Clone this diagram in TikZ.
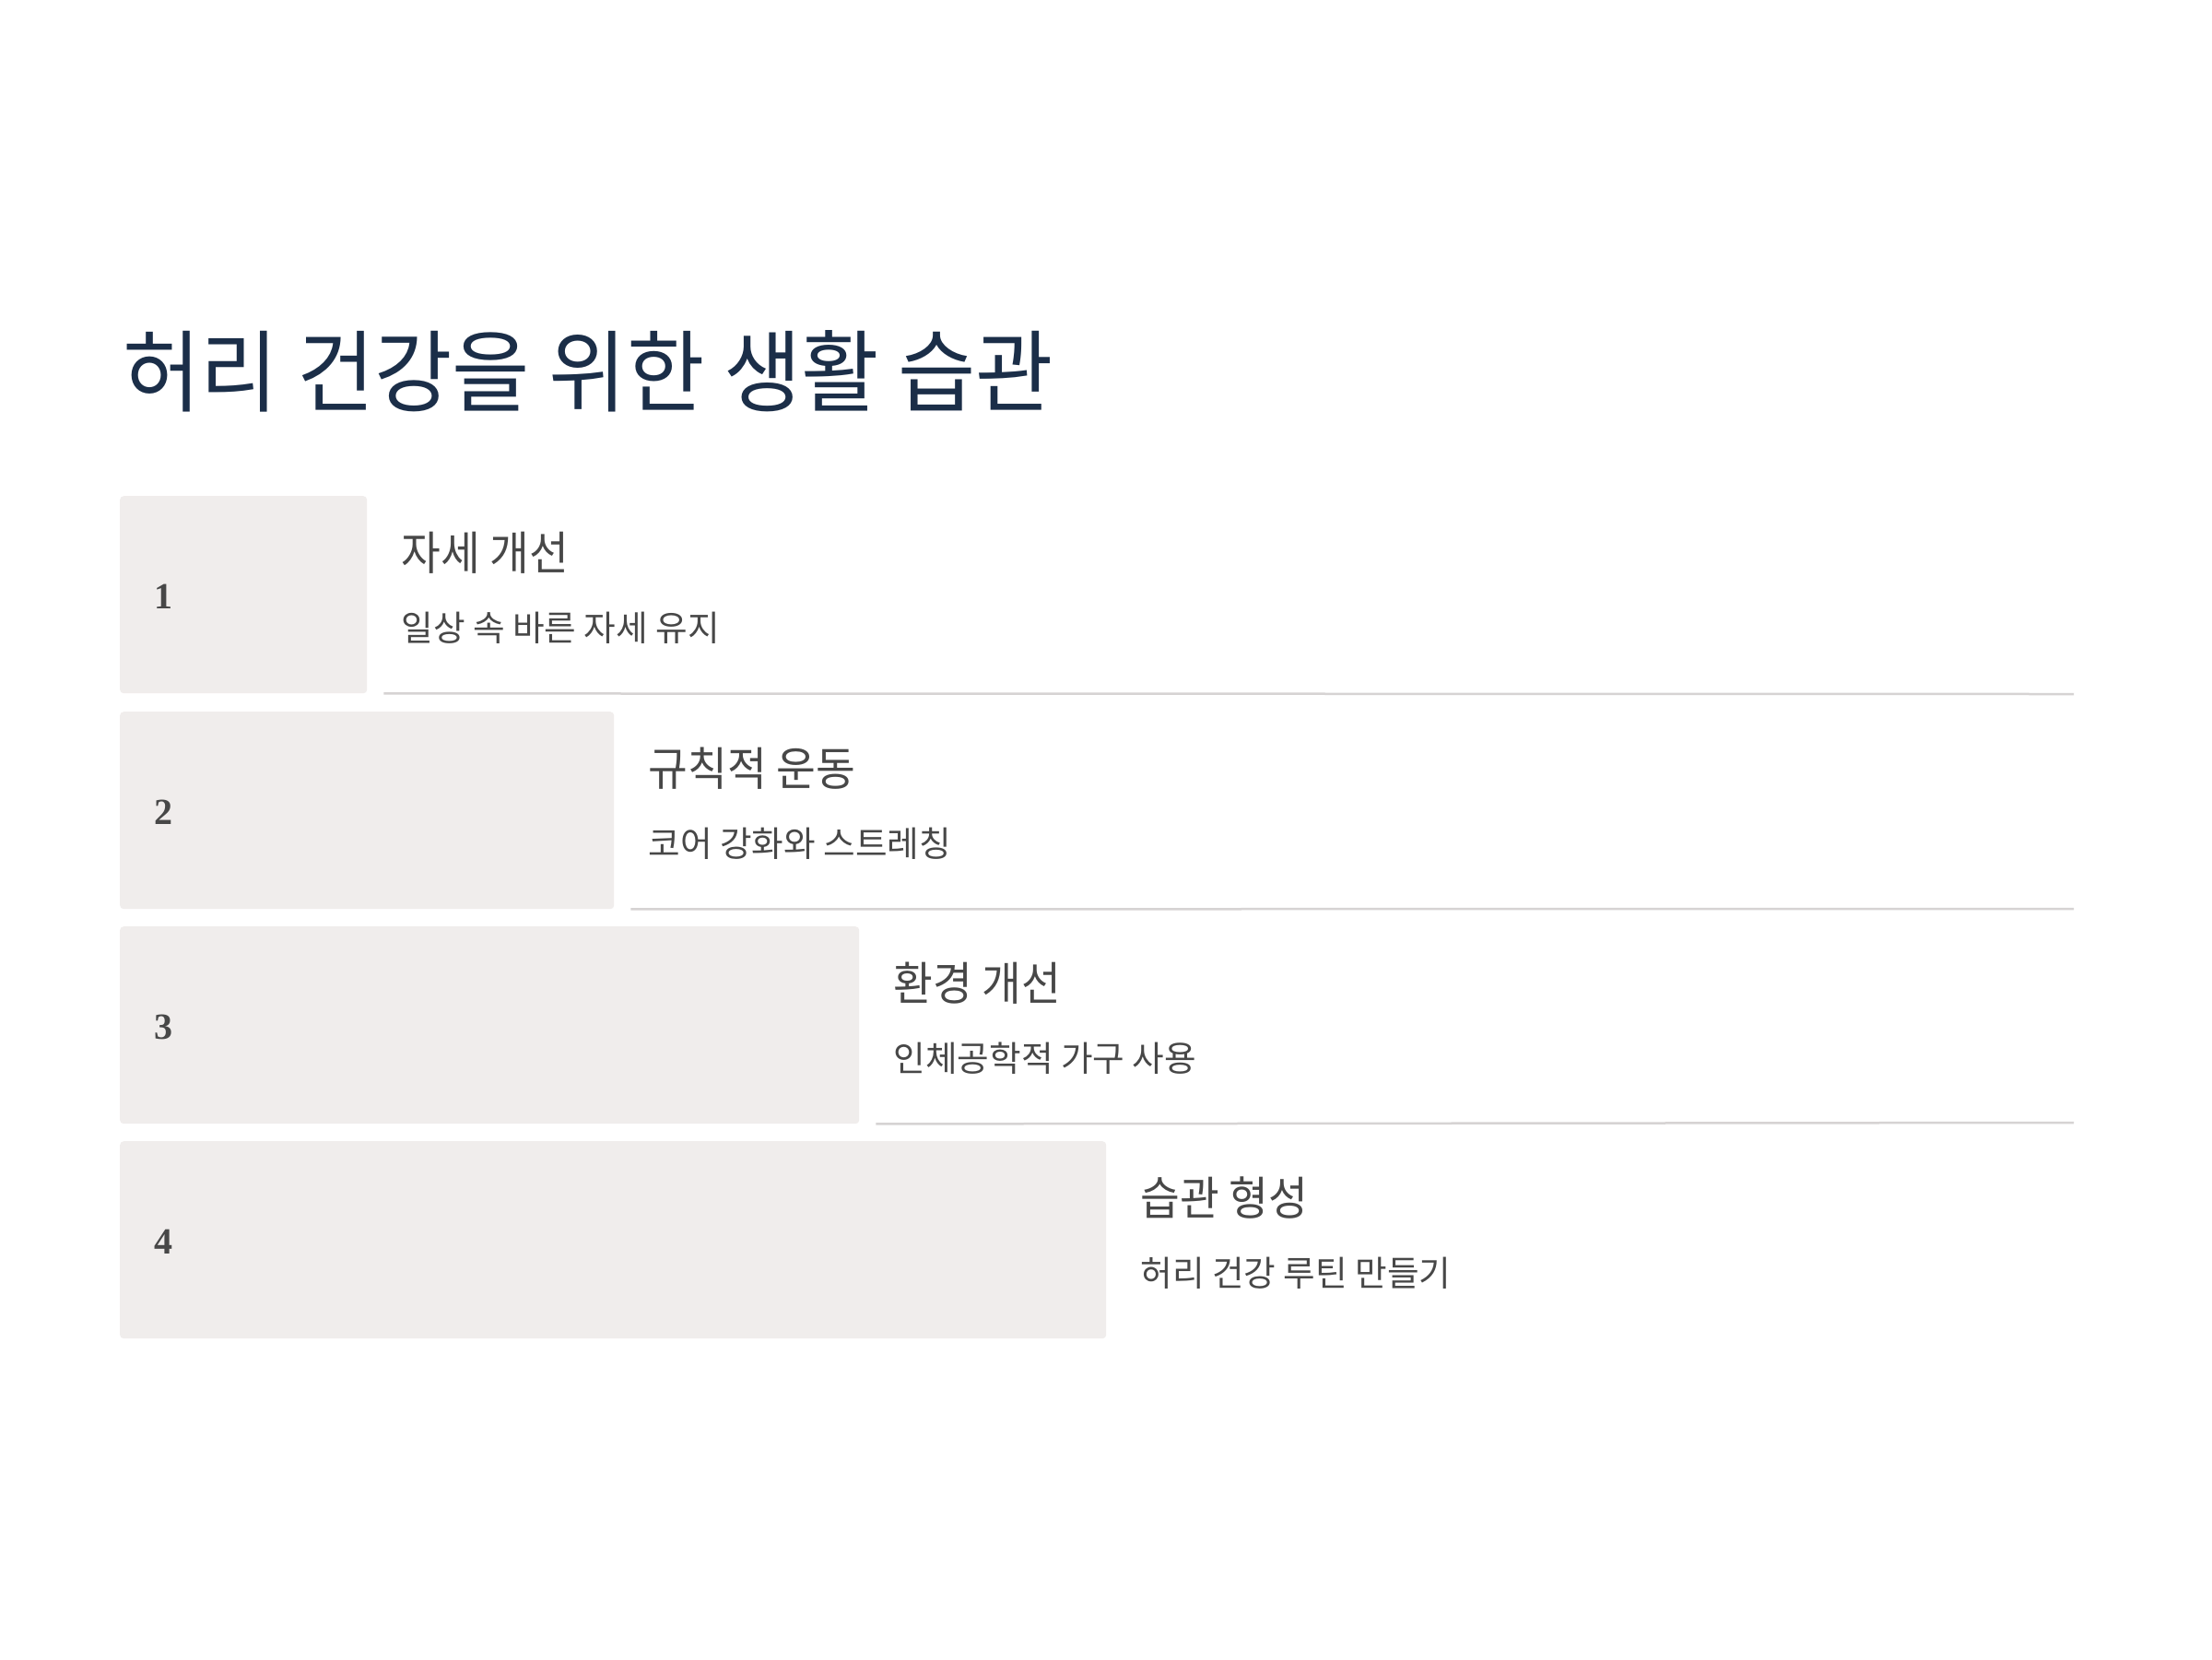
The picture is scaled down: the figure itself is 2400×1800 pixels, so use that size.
\documentclass[tikz,border=0pt]{standalone}
\usepackage{fontspec}
\usetikzlibrary{calc}
\setmainfont{Liberation Serif}
\newfontfamily\krT[FakeStretch=0.945]{Noto Sans CJK KR}
\newfontfamily\krH[FakeStretch=0.93]{Noto Sans CJK KR}
\newfontfamily\krS[FakeStretch=0.99]{Noto Sans CJK KR}
\definecolor{boxfill}{HTML}{F0EDEC}
\definecolor{sepline}{HTML}{D6D3D3}
\definecolor{titlecol}{HTML}{1B2E48}
\definecolor{txt}{HTML}{474747}
\begin{document}
\begin{tikzpicture}[x=1pt,y=-1pt,
  box/.style={fill=boxfill, rounded corners=4pt, inner sep=0, minimum height=214pt, anchor=north west},
  num/.style={font=\bfseries\fontsize{40}{40}\selectfont, text=txt, anchor=west, inner sep=0},
  head/.style={font=\krH\fontsize{50}{50}\selectfont, text=txt, anchor=west, inner sep=0},
  sub/.style={font=\krS\fontsize{38}{38}\selectfont, text=txt, anchor=west, inner sep=0},
  sep/.style={draw=sepline, line width=2.5pt}]
\useasboundingbox[fill=white] (0,0) rectangle (2400,1800);
\node[font=\krT\fontsize{97}{97}\selectfont, text=titlecol, anchor=west, inner sep=0] (title) at (133,403) {허리 건강을 위한 생활 습관};
% boxes
\node[box, minimum width=268pt] (b1) at (130,538) {};
\node[box, minimum width=536pt] (b2) at (130,772) {};
\node[box, minimum width=802pt] (b3) at (130,1005) {};
\node[box, minimum width=1070pt] (b4) at (130,1238) {};
% numbers
\node[num] (n1) at ($(b1.west)+(37,2)$) {1};
\node[num] (n2) at ($(b2.west)+(37,2)$) {2};
\node[num] (n3) at ($(b3.west)+(37,2)$) {3};
\node[num] (n4) at ($(b4.west)+(37,2)$) {4};
% headings
\node[head] (h1) at ($(b1.north east)+(37,62)$) {자세 개선};
\node[sub]  (s1) at ($(b1.north east)+(37,143)$) {일상 속 바른 자세 유지};
\node[head] (h2) at ($(b2.north east)+(37,62)$) {규칙적 운동};
\node[sub]  (s2) at ($(b2.north east)+(37,143)$) {코어 강화와 스트레칭};
\node[head] (h3) at ($(b3.north east)+(37,62)$) {환경 개선};
\node[sub]  (s3) at ($(b3.north east)+(37,143)$) {인체공학적 가구 사용};
\node[head] (h4) at ($(b4.north east)+(37,62)$) {습관 형성};
\node[sub]  (s4) at ($(b4.north east)+(37,143)$) {허리 건강 루틴 만들기};
% separators
\coordinate (e1) at (2250,753);
\coordinate (e2) at (2250,986);
\coordinate (e3) at (2250,1218);
\draw[sep] ($(b1.south east)+(18,0)$) -- (e1);
\draw[sep] ($(b2.south east)+(18,0)$) -- (e2);
\draw[sep] ($(b3.south east)+(18,0)$) -- (e3);
\end{tikzpicture}
\end{document}
